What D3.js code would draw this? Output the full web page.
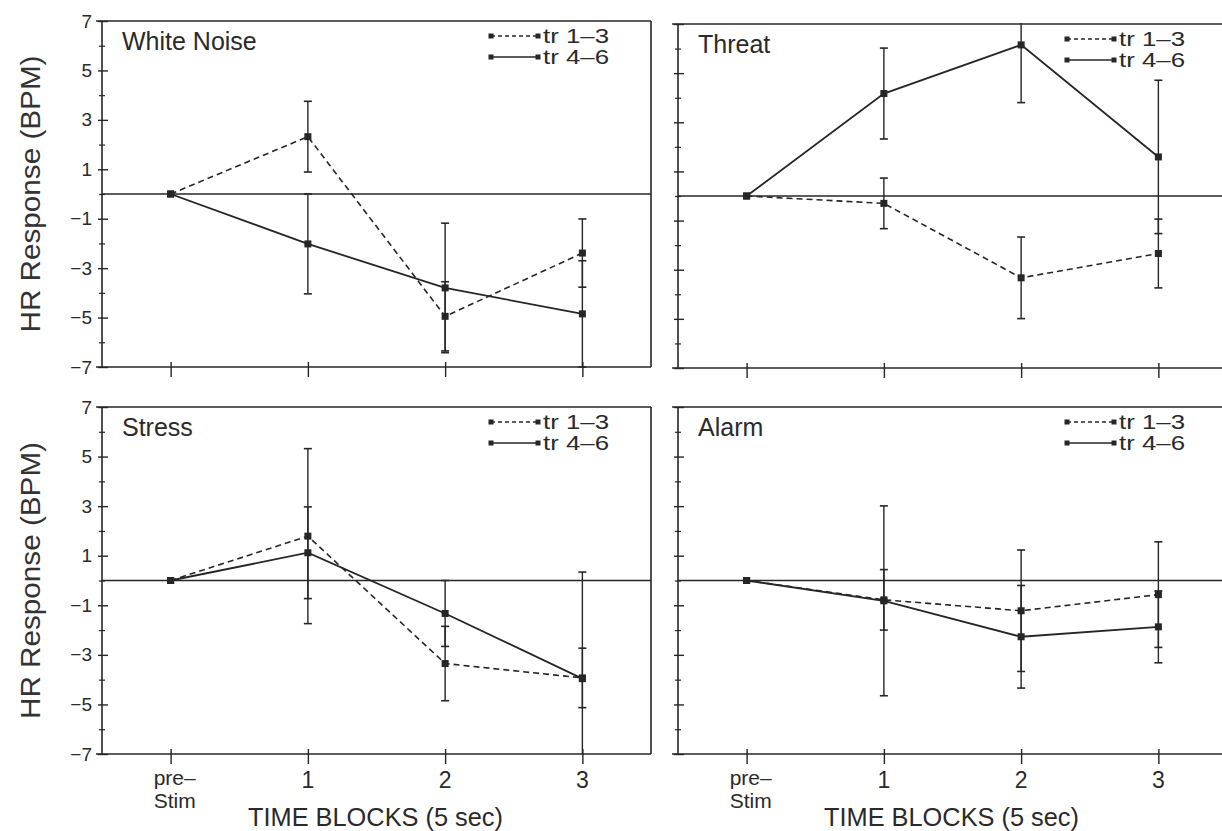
<!DOCTYPE html>
<html>
<head>
<meta charset="utf-8">
<script src="https://cdn.jsdelivr.net/npm/d3@7"></script>
<style>
  html, body { margin: 0; padding: 0; background: #fff; }
  svg { display: block; font-family: "Liberation Sans", Arial, Helvetica, sans-serif; }
</style>
</head>
<body>
<svg id="chart" width="1222" height="831"></svg>
<script>
// ---------- data ----------
const panelTitles = ["White Noise", "Threat", "Stress", "Alarm"];
const xCategories = ["pre-Stim", "1", "2", "3"];
const xTickLabels = [["pre–", "Stim"], ["1"], ["2"], ["3"]];
const yMajorTicks = [-7, -5, -3, -1, 1, 3, 5, 7];
const yMinorTicks = [-6, -4, -2, 0, 2, 4, 6];
const legendLabels = ["tr 1–3", "tr 4–6"];
const yAxisTitle = "HR Response (BPM)";
const xAxisTitle = "TIME BLOCKS (5 sec)";

const whiteNoiseTr13    = [0, 2.32, -4.95, -2.39];
const whiteNoiseTr13Err = [0, 1.43, 1.40, 1.38];
const whiteNoiseTr46    = [0, -2.02, -3.80, -4.85];
const whiteNoiseTr46Err = [0, 2.02, 2.62, 2.15];

const threatTr13    = [0, -0.30, -3.33, -2.34];
const threatTr13Err = [0, 1.03, 1.66, 1.40];
const threatTr46    = [0, 4.17, 6.15, 1.59];
const threatTr46Err = [0, 1.85, 2.35, 3.12];

const stressTr13    = [0, 1.79, -3.35, -3.93];
const stressTr13Err = [0, 3.53, 1.50, 1.20];
const stressTr46    = [0, 1.12, -1.33, -3.96];
const stressTr46Err = [0, 1.85, 1.33, 4.30];

const alarmTr13    = [0, -0.78, -1.22, -0.57];
const alarmTr13Err = [0, 1.22, 2.45, 2.13];
const alarmTr46    = [0, -0.82, -2.27, -1.87];
const alarmTr46Err = [0, 3.83, 2.07, 1.45];

// ---------- layout ----------
const panels = [
  { title: panelTitles[0], x0: 102, x1: 651,  y0: 21,  y1: 367, yLabels: true,  xLabels: false,
    s13: whiteNoiseTr13, e13: whiteNoiseTr13Err, s46: whiteNoiseTr46, e46: whiteNoiseTr46Err },
  { title: panelTitles[1], x0: 678, x1: 1227, y0: 24,  y1: 368, yLabels: false, xLabels: false,
    s13: threatTr13, e13: threatTr13Err, s46: threatTr46, e46: threatTr46Err },
  { title: panelTitles[2], x0: 102, x1: 651,  y0: 407, y1: 754, yLabels: true,  xLabels: true,
    s13: stressTr13, e13: stressTr13Err, s46: stressTr46, e46: stressTr46Err },
  { title: panelTitles[3], x0: 678, x1: 1227, y0: 407, y1: 754, yLabels: false, xLabels: true,
    s13: alarmTr13, e13: alarmTr13Err, s46: alarmTr46, e46: alarmTr46Err }
];

const INK = "#262626";
const TXT = "#2a2a2a";
const svg = d3.select("#chart");
const fmt = d => d < 0 ? "\u2212" + Math.abs(d) : String(d);

panels.forEach((p, pi) => {
  const g = svg.append("g");
  const x = d3.scalePoint().domain(xCategories).range([p.x0, p.x1]).padding(0.5);
  const y = d3.scaleLinear().domain([-7, 7]).range([p.y1, p.y0]);

  const clipId = "clip" + pi;
  svg.append("clipPath").attr("id", clipId).append("rect")
    .attr("x", p.x0 - 10).attr("y", p.y0 - 1).attr("width", p.x1 - p.x0 + 20).attr("height", p.y1 - p.y0 + 2);

  // frame
  const frame = g.append("g").attr("stroke", INK).attr("stroke-width", 1.6).attr("fill", "none");
  frame.append("line").attr("x1", p.x0 - 6).attr("x2", p.x1).attr("y1", p.y0).attr("y2", p.y0);
  frame.append("line").attr("x1", p.x0 - 6).attr("x2", p.x1).attr("y1", p.y1).attr("y2", p.y1);
  frame.append("line").attr("x1", p.x0).attr("x2", p.x0).attr("y1", p.y0).attr("y2", p.y1);
  frame.append("line").attr("x1", p.x1).attr("x2", p.x1).attr("y1", p.y0).attr("y2", p.y1);
  // zero line
  g.append("line").attr("x1", p.x0).attr("x2", p.x1).attr("y1", y(0)).attr("y2", y(0))
    .attr("stroke", INK).attr("stroke-width", 1.5);

  // y axis major
  const yAx = g.append("g").attr("transform", `translate(${p.x0},0)`)
    .call(d3.axisLeft(y).tickValues(yMajorTicks).tickSize(4).tickPadding(6)
      .tickFormat(p.yLabels ? fmt : ""));
  yAx.select(".domain").remove();
  yAx.selectAll(".tick line").attr("x1", 6).attr("stroke", INK).attr("stroke-width", 1.4);
  yAx.selectAll(".tick text").attr("fill", TXT).style("font-size", "19px")
    .style("font-family", "'Liberation Sans', Arial, sans-serif");
  // y axis minor
  const yMin = g.append("g").attr("transform", `translate(${p.x0},0)`)
    .call(d3.axisLeft(y).tickValues(yMinorTicks).tickSize(3).tickFormat(""));
  yMin.select(".domain").remove();
  yMin.selectAll(".tick line").attr("x1", 3).attr("stroke", INK).attr("stroke-width", 1.2);

  // x axis
  const xAx = g.append("g").attr("transform", `translate(0,${p.y1})`)
    .call(d3.axisBottom(x).tickSize(10).tickFormat(""));
  xAx.select(".domain").remove();
  xAx.selectAll(".tick line").attr("y1", -5).attr("stroke", INK).attr("stroke-width", 1.4);

  if (p.xLabels) {
    xCategories.forEach((c, i) => {
      const lines = xTickLabels[i];
      if (lines.length === 2) {
        g.append("text").attr("x", x(c) - 17).attr("y", p.y1 + 31)
          .attr("fill", TXT).style("font-size", "21px").text(lines[0]);
        g.append("text").attr("x", x(c) - 17).attr("y", p.y1 + 54)
          .attr("fill", TXT).style("font-size", "21px").text(lines[1]);
      } else {
        g.append("text").attr("x", x(c)).attr("y", p.y1 + 34).attr("text-anchor", "middle")
          .attr("fill", TXT).style("font-size", "23px").text(lines[0]);
      }
    });
    g.append("text").attr("x", p.x0 + 273.5).attr("y", p.y1 + 72).attr("text-anchor", "middle")
      .attr("fill", TXT).style("font-size", "25px")
      .attr("textLength", 255).attr("lengthAdjust", "spacingAndGlyphs").text(xAxisTitle);
  }

  if (p.yLabels) {
    const cy = (p.y0 + p.y1) / 2;
    g.append("text").attr("transform", `translate(40,${cy}) rotate(-90)`)
      .attr("text-anchor", "middle").attr("fill", "#333").style("font-size", "28px")
      .attr("textLength", 277).attr("lengthAdjust", "spacingAndGlyphs").text(yAxisTitle);
  }

  // title
  g.append("text").attr("x", p.x0 + 20).attr("y", p.y0 + 29).attr("fill", TXT)
    .style("font-size", "25px").text(p.title);

  // legend
  const lx = p.x1 - 160;
  [[0, "4,3"], [1, null]].forEach(([i, dash]) => {
    const ly = p.y0 + 15 + i * 21;
    const lg = g.append("g");
    const ln = lg.append("line").attr("x1", lx).attr("x2", lx + 47).attr("y1", ly).attr("y2", ly)
      .attr("stroke", INK).attr("stroke-width", 1.5);
    if (dash) ln.attr("stroke-dasharray", dash);
    [lx, lx + 47].forEach(mx => lg.append("rect").attr("x", mx - 2.5).attr("y", ly - 2.5)
      .attr("width", 5).attr("height", 5).attr("fill", INK));
    lg.append("text").attr("x", lx + 52).attr("y", ly + 7).attr("fill", TXT)
      .style("font-size", "20px").attr("textLength", 66).attr("lengthAdjust", "spacingAndGlyphs")
      .text(legendLabels[i]);
  });

  // series
  const data = g.append("g").attr("clip-path", `url(#${clipId})`);
  const series = [
    { vals: p.s13, errs: p.e13, dash: "6,4" },
    { vals: p.s46, errs: p.e46, dash: null }
  ];
  const line = d3.line().x((d, i) => x(xCategories[i])).y(d => y(d));
  series.forEach(s => {
    // error bars
    s.vals.forEach((v, i) => {
      const e = s.errs[i];
      if (!e) return;
      const cx = x(xCategories[i]);
      data.append("line").attr("x1", cx).attr("x2", cx).attr("y1", y(v + e)).attr("y2", y(v - e))
        .attr("stroke", INK).attr("stroke-width", 1.4);
      [v + e, v - e].forEach(b => data.append("line").attr("x1", cx - 4).attr("x2", cx + 4)
        .attr("y1", y(b)).attr("y2", y(b)).attr("stroke", INK).attr("stroke-width", 1.6));
    });
    const path = data.append("path").datum(s.vals).attr("d", line)
      .attr("fill", "none").attr("stroke", INK).attr("stroke-width", 1.8);
    if (s.dash) path.attr("stroke-dasharray", s.dash).attr("stroke-width", 1.6);
    data.selectAll(null).data(s.vals).enter().append("rect")
      .attr("x", (d, i) => x(xCategories[i]) - 3.5).attr("y", d => y(d) - 3.5)
      .attr("width", 7).attr("height", 7).attr("fill", INK);
  });
});
</script>
</body>
</html>
